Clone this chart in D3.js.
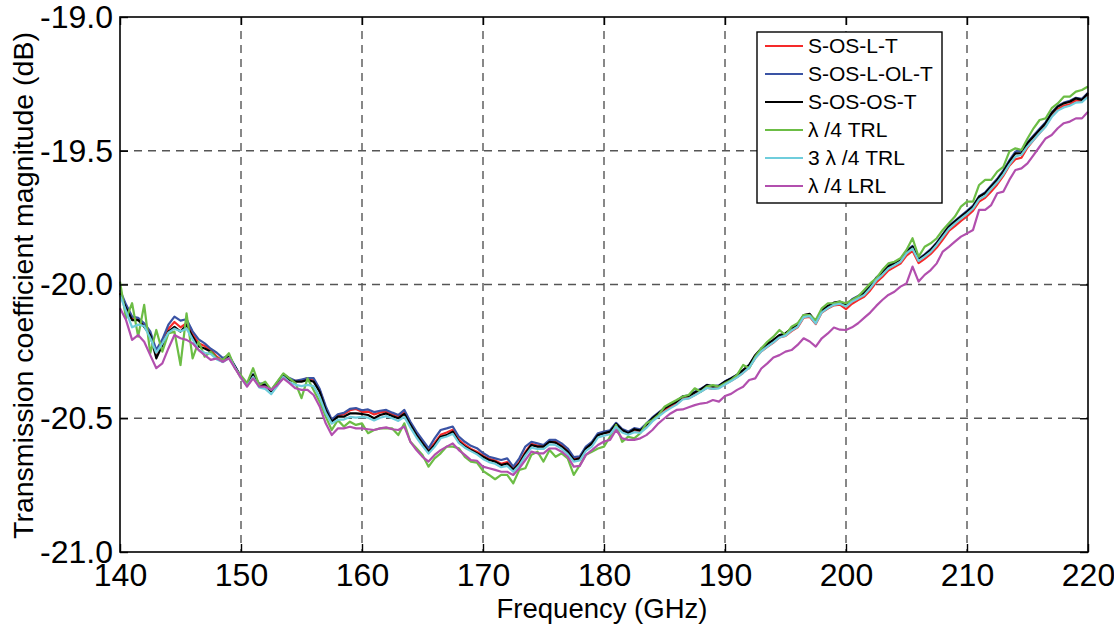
<!DOCTYPE html>
<html>
<head>
<meta charset="utf-8">
<script src="https://cdn.jsdelivr.net/npm/d3@7"></script>
<style>
  html, body { margin: 0; padding: 0; background: #fff; }
  svg { display: block; font-family: "Liberation Sans", Arial, sans-serif; }
</style>
</head>
<body>
<svg id="chart" width="1114" height="624"></svg>
<script>
// Frequency sweep: 140–220 GHz in 0.5 GHz steps
const freqStart = 140;
const freqStep = 0.5;

const xTicks = [140, 150, 160, 170, 180, 190, 200, 210, 220];
const yTicks = [-21.0, -20.5, -20.0, -19.5, -19.0];

const seriesNames = ["S-OS-L-T", "S-OS-L-OL-T", "S-OS-OS-T", "λ /4 TRL", "3 λ /4 TRL", "λ /4 LRL"];
const seriesColors = ["#f52a2a", "#3a53a4", "#000000", "#6cbd45", "#6fcddc", "#b24fae"];

// |S21| in dB for each calibration method
const sOSLT = [
  -20.030, -20.080, -20.125, -20.130, -20.150, -20.185, -20.260, -20.215, -20.165, -20.140,
  -20.160, -20.145, -20.185, -20.220, -20.230, -20.245, -20.270, -20.285, -20.270, -20.310,
  -20.350, -20.375, -20.340, -20.375, -20.375, -20.400, -20.370, -20.340, -20.355, -20.360,
  -20.360, -20.350, -20.355, -20.395, -20.460, -20.510, -20.490, -20.485, -20.470, -20.465,
  -20.476, -20.475, -20.486, -20.478, -20.474, -20.484, -20.493, -20.476, -20.520, -20.557,
  -20.588, -20.620, -20.592, -20.562, -20.553, -20.543, -20.580, -20.600, -20.615, -20.625,
  -20.640, -20.652, -20.658, -20.670, -20.664, -20.688, -20.664, -20.626, -20.596, -20.602,
  -20.602, -20.585, -20.588, -20.602, -20.621, -20.652, -20.647, -20.610, -20.596, -20.560,
  -20.556, -20.552, -20.525, -20.548, -20.558, -20.546, -20.550, -20.530, -20.506, -20.488,
  -20.470, -20.458, -20.446, -20.428, -20.425, -20.413, -20.400, -20.386, -20.390, -20.386,
  -20.372, -20.360, -20.346, -20.330, -20.310, -20.275, -20.250, -20.233, -20.217, -20.198,
  -20.192, -20.174, -20.160, -20.124, -20.121, -20.148, -20.105, -20.090, -20.078, -20.075,
  -20.092, -20.072, -20.058, -20.046, -20.022, -19.992, -19.972, -19.948, -19.935, -19.922,
  -19.892, -19.874, -19.920, -19.904, -19.886, -19.862, -19.832, -19.800, -19.782, -19.762,
  -19.745, -19.724, -19.690, -19.676, -19.652, -19.626, -19.594, -19.556, -19.532, -19.526,
  -19.488, -19.460, -19.434, -19.407, -19.370, -19.345, -19.332, -19.326, -19.312, -19.316,
  -19.290
];

const sOSLOLT = [
  -20.021, -20.075, -20.120, -20.125, -20.145, -20.175, -20.245, -20.205, -20.150, -20.120,
  -20.135, -20.130, -20.175, -20.205, -20.220, -20.240, -20.255, -20.275, -20.265, -20.305,
  -20.345, -20.370, -20.335, -20.370, -20.370, -20.395, -20.365, -20.335, -20.350, -20.360,
  -20.355, -20.350, -20.350, -20.390, -20.455, -20.505, -20.485, -20.480, -20.465, -20.462,
  -20.470, -20.467, -20.477, -20.472, -20.469, -20.479, -20.488, -20.469, -20.513, -20.550,
  -20.581, -20.612, -20.575, -20.544, -20.538, -20.531, -20.569, -20.588, -20.603, -20.612,
  -20.630, -20.644, -20.650, -20.656, -20.650, -20.681, -20.650, -20.606, -20.588, -20.594,
  -20.600, -20.581, -20.581, -20.594, -20.613, -20.645, -20.642, -20.606, -20.588, -20.556,
  -20.550, -20.545, -20.517, -20.540, -20.550, -20.537, -20.541, -20.520, -20.497, -20.479,
  -20.461, -20.448, -20.436, -20.418, -20.414, -20.401, -20.390, -20.375, -20.380, -20.377,
  -20.362, -20.350, -20.337, -20.320, -20.300, -20.266, -20.241, -20.224, -20.208, -20.191,
  -20.184, -20.166, -20.152, -20.118, -20.113, -20.140, -20.098, -20.083, -20.070, -20.066,
  -20.076, -20.055, -20.043, -20.030, -20.005, -19.974, -19.955, -19.930, -19.918, -19.905,
  -19.874, -19.856, -19.904, -19.887, -19.868, -19.843, -19.812, -19.781, -19.762, -19.743,
  -19.725, -19.705, -19.670, -19.656, -19.630, -19.605, -19.573, -19.536, -19.503, -19.500,
  -19.468, -19.443, -19.418, -19.393, -19.357, -19.333, -19.320, -19.313, -19.302, -19.306,
  -19.283
];

const sOSOST = [
  -20.033, -20.089, -20.133, -20.133, -20.158, -20.189, -20.276, -20.226, -20.176, -20.158,
  -20.176, -20.151, -20.195, -20.232, -20.239, -20.251, -20.276, -20.289, -20.270, -20.307,
  -20.345, -20.376, -20.338, -20.376, -20.376, -20.401, -20.369, -20.338, -20.357, -20.363,
  -20.363, -20.357, -20.363, -20.401, -20.469, -20.513, -20.494, -20.494, -20.482, -20.482,
  -20.484, -20.488, -20.500, -20.488, -20.482, -20.492, -20.500, -20.484, -20.525, -20.563,
  -20.594, -20.625, -20.600, -20.569, -20.563, -20.550, -20.588, -20.606, -20.619, -20.631,
  -20.644, -20.656, -20.662, -20.675, -20.669, -20.693, -20.669, -20.631, -20.600, -20.606,
  -20.606, -20.588, -20.591, -20.606, -20.625, -20.656, -20.650, -20.613, -20.594, -20.563,
  -20.556, -20.550, -20.521, -20.544, -20.556, -20.541, -20.546, -20.525, -20.500, -20.482,
  -20.463, -20.450, -20.438, -20.419, -20.417, -20.404, -20.392, -20.376, -20.382, -20.379,
  -20.363, -20.351, -20.338, -20.320, -20.301, -20.264, -20.239, -20.222, -20.207, -20.189,
  -20.183, -20.164, -20.151, -20.114, -20.110, -20.139, -20.095, -20.080, -20.068, -20.064,
  -20.077, -20.058, -20.046, -20.033, -20.008, -19.977, -19.958, -19.933, -19.921, -19.908,
  -19.877, -19.859, -19.908, -19.890, -19.871, -19.846, -19.815, -19.784, -19.765, -19.746,
  -19.728, -19.709, -19.672, -19.659, -19.634, -19.609, -19.578, -19.541, -19.510, -19.510,
  -19.472, -19.447, -19.422, -19.397, -19.360, -19.335, -19.323, -19.317, -19.304, -19.310,
  -19.285
];

const quarterTRL = [
  -19.989, -20.127, -20.070, -20.195, -20.076, -20.257, -20.170, -20.251, -20.183, -20.176,
  -20.301, -20.108, -20.276, -20.214, -20.270, -20.251, -20.276, -20.282, -20.257, -20.313,
  -20.340, -20.369, -20.313, -20.376, -20.363, -20.394, -20.363, -20.332, -20.351, -20.369,
  -20.425, -20.351, -20.394, -20.438, -20.494, -20.544, -20.507, -20.531, -20.513, -20.525,
  -20.519, -20.556, -20.544, -20.538, -20.538, -20.538, -20.563, -20.519, -20.588, -20.612,
  -20.637, -20.681, -20.650, -20.631, -20.606, -20.606, -20.612, -20.644, -20.662, -20.666,
  -20.697, -20.712, -20.728, -20.712, -20.712, -20.743, -20.693, -20.687, -20.637, -20.625,
  -20.662, -20.619, -20.644, -20.631, -20.650, -20.712, -20.675, -20.637, -20.625, -20.613,
  -20.606, -20.569, -20.525, -20.588, -20.569, -20.575, -20.556, -20.519, -20.507, -20.488,
  -20.457, -20.444, -20.432, -20.419, -20.413, -20.388, -20.401, -20.382, -20.376, -20.382,
  -20.369, -20.357, -20.338, -20.301, -20.313, -20.270, -20.239, -20.214, -20.195, -20.170,
  -20.189, -20.158, -20.145, -20.114, -20.114, -20.133, -20.089, -20.070, -20.070, -20.064,
  -20.070, -20.058, -20.045, -20.021, -19.996, -19.977, -19.946, -19.921, -19.915, -19.902,
  -19.871, -19.827, -19.896, -19.859, -19.846, -19.827, -19.796, -19.771, -19.746, -19.709,
  -19.690, -19.690, -19.628, -19.609, -19.609, -19.578, -19.560, -19.503, -19.491, -19.497,
  -19.454, -19.416, -19.385, -19.379, -19.341, -19.323, -19.298, -19.298, -19.279, -19.273,
  -19.260
];

const threeQuarterTRL = [
  -20.040, -20.100, -20.160, -20.150, -20.155, -20.200, -20.255, -20.220, -20.180, -20.165,
  -20.175, -20.165, -20.205, -20.245, -20.255, -20.260, -20.280, -20.290, -20.275, -20.310,
  -20.350, -20.380, -20.345, -20.385, -20.390, -20.410, -20.380, -20.345, -20.365, -20.375,
  -20.380, -20.375, -20.380, -20.420, -20.480, -20.520, -20.505, -20.505, -20.495, -20.498,
  -20.495, -20.498, -20.508, -20.498, -20.492, -20.500, -20.510, -20.495, -20.535, -20.572,
  -20.603, -20.632, -20.607, -20.575, -20.568, -20.558, -20.592, -20.610, -20.623, -20.635,
  -20.652, -20.664, -20.670, -20.683, -20.678, -20.700, -20.676, -20.640, -20.610, -20.615,
  -20.615, -20.598, -20.600, -20.614, -20.634, -20.662, -20.658, -20.622, -20.606, -20.572,
  -20.565, -20.560, -20.532, -20.553, -20.562, -20.552, -20.555, -20.536, -20.512, -20.494,
  -20.476, -20.462, -20.449, -20.430, -20.426, -20.414, -20.401, -20.387, -20.390, -20.388,
  -20.374, -20.361, -20.347, -20.330, -20.311, -20.276, -20.250, -20.232, -20.216, -20.198,
  -20.191, -20.172, -20.158, -20.122, -20.118, -20.146, -20.104, -20.088, -20.076, -20.072,
  -20.082, -20.064, -20.052, -20.039, -20.014, -19.984, -19.964, -19.940, -19.928, -19.915,
  -19.884, -19.866, -19.912, -19.896, -19.878, -19.852, -19.822, -19.792, -19.772, -19.754,
  -19.736, -19.716, -19.682, -19.668, -19.642, -19.618, -19.588, -19.552, -19.522, -19.515,
  -19.484, -19.460, -19.434, -19.410, -19.374, -19.350, -19.338, -19.332, -19.320, -19.318,
  -19.298
];

const quarterLRL = [
  -20.089, -20.133, -20.207, -20.189, -20.214, -20.264, -20.313, -20.295, -20.239, -20.189,
  -20.201, -20.207, -20.220, -20.245, -20.264, -20.282, -20.276, -20.289, -20.276, -20.313,
  -20.348, -20.382, -20.351, -20.382, -20.382, -20.394, -20.376, -20.351, -20.369, -20.388,
  -20.394, -20.394, -20.413, -20.456, -20.519, -20.563, -20.538, -20.538, -20.532, -20.538,
  -20.538, -20.541, -20.544, -20.538, -20.534, -20.541, -20.544, -20.531, -20.588, -20.619,
  -20.644, -20.662, -20.637, -20.619, -20.606, -20.594, -20.619, -20.637, -20.656, -20.659,
  -20.681, -20.687, -20.693, -20.700, -20.700, -20.712, -20.687, -20.656, -20.625, -20.631,
  -20.631, -20.613, -20.613, -20.625, -20.644, -20.681, -20.678, -20.637, -20.619, -20.600,
  -20.587, -20.581, -20.544, -20.575, -20.581, -20.581, -20.575, -20.563, -20.544, -20.519,
  -20.500, -20.482, -20.469, -20.467, -20.459, -20.451, -20.445, -20.442, -20.432, -20.438,
  -20.417, -20.409, -20.394, -20.382, -20.357, -20.351, -20.314, -20.295, -20.273, -20.264,
  -20.251, -20.245, -20.226, -20.201, -20.213, -20.232, -20.201, -20.183, -20.161, -20.169,
  -20.170, -20.160, -20.145, -20.125, -20.105, -20.080, -20.058, -20.039, -20.027, -20.008,
  -19.996, -19.933, -19.989, -19.964, -19.946, -19.921, -19.877, -19.859, -19.840, -19.821,
  -19.809, -19.796, -19.721, -19.721, -19.703, -19.659, -19.653, -19.609, -19.572, -19.566,
  -19.547, -19.516, -19.485, -19.454, -19.441, -19.416, -19.397, -19.391, -19.379, -19.379,
  -19.354
];

const seriesValues = [sOSLT, sOSLOLT, sOSOST, quarterTRL, threeQuarterTRL, quarterLRL];

// ---- layout ----
const margin = { left: 120, top: 17, right: 26, bottom: 72 };
const width = 1114, height = 624;
const plotW = width - margin.left - margin.right;
const plotH = height - margin.top - margin.bottom;

const svg = d3.select("#chart");
const g = svg.append("g").attr("transform", `translate(${margin.left},${margin.top})`);

const x = d3.scaleLinear().domain([140, 220]).range([0, plotW]);
const y = d3.scaleLinear().domain([-21, -19]).range([plotH, 0]);

// dashed grid
const grid = g.append("g").attr("class", "grid");
grid.selectAll("line.vx")
  .data(xTicks.slice(1, -1))
  .join("line")
  .attr("x1", d => x(d)).attr("x2", d => x(d))
  .attr("y1", 0).attr("y2", plotH)
  .attr("stroke", "#555").attr("stroke-width", 1.4)
  .attr("stroke-dasharray", "8,6");
grid.selectAll("line.hy")
  .data(yTicks.slice(1, -1))
  .join("line")
  .attr("x1", 0).attr("x2", plotW)
  .attr("y1", d => y(d)).attr("y2", d => y(d))
  .attr("stroke", "#555").attr("stroke-width", 1.4)
  .attr("stroke-dasharray", "8,6");

// data lines
const line = d3.line()
  .x((d, i) => x(freqStart + i * freqStep))
  .y(d => y(d));

g.append("g").attr("class", "series")
  .selectAll("path")
  .data(seriesValues)
  .join("path")
  .attr("d", d => line(d))
  .attr("fill", "none")
  .attr("stroke", (d, i) => seriesColors[i])
  .attr("stroke-width", 2.2)
  .attr("stroke-linejoin", "round");

// axes with inward ticks on all four sides
const fmt1 = d => d.toFixed(1);   // plain hyphen-minus, one decimal
const tickLen = 8;
const axisStyle = sel => {
  sel.selectAll("path.domain").remove();
  sel.selectAll(".tick line").attr("stroke", "#000").attr("stroke-width", 1.4);
};

const xAxisB = g.append("g").attr("transform", `translate(0,${plotH})`)
  .call(d3.axisBottom(x).tickValues(xTicks).tickSize(-tickLen).tickPadding(11).tickFormat(d => String(d)));
axisStyle(xAxisB);
xAxisB.selectAll("text").attr("font-size", 32).attr("fill", "#000")
  .attr("font-family", "Liberation Sans, Arial, sans-serif");

const xAxisT = g.append("g")
  .call(d3.axisTop(x).tickValues(xTicks).tickSize(-tickLen).tickFormat(""));
axisStyle(xAxisT);

const yAxisL = g.append("g")
  .call(d3.axisLeft(y).tickValues(yTicks).tickSize(-tickLen).tickPadding(7).tickFormat(fmt1));
axisStyle(yAxisL);
yAxisL.selectAll("text").attr("font-size", 32).attr("fill", "#000")
  .attr("font-family", "Liberation Sans, Arial, sans-serif");

const yAxisR = g.append("g").attr("transform", `translate(${plotW},0)`)
  .call(d3.axisRight(y).tickValues(yTicks).tickSize(-tickLen).tickFormat(""));
axisStyle(yAxisR);

// frame
g.append("rect")
  .attr("x", 0).attr("y", 0).attr("width", plotW).attr("height", plotH)
  .attr("fill", "none").attr("stroke", "#000").attr("stroke-width", 1.6);

// axis titles
svg.append("text")
  .attr("x", 602).attr("y", 618)
  .attr("text-anchor", "middle")
  .attr("font-size", 27.5)
  .text("Frequency (GHz)");

svg.append("text")
  .attr("transform", `translate(33,${margin.top + plotH / 2 + 1}) rotate(-90)`)
  .attr("text-anchor", "middle")
  .attr("font-size", 28.5)
  .text("Transmission coefficient magnitude (dB)");

// legend
const legend = g.append("g").attr("transform", `translate(${757 - margin.left},${32 - margin.top})`);
legend.append("rect")
  .attr("width", 185).attr("height", 171)
  .attr("fill", "#fff").attr("stroke", "#000").attr("stroke-width", 1.4);
const items = legend.selectAll("g.item")
  .data(seriesNames)
  .join("g")
  .attr("transform", (d, i) => `translate(0,${14 + i * 28})`);
items.append("line")
  .attr("x1", 8).attr("x2", 46)
  .attr("stroke", (d, i) => seriesColors[i]).attr("stroke-width", 2);
items.append("text")
  .attr("x", 51).attr("dy", "0.35em")
  .attr("font-size", 21)
  .text(d => d);
</script>
</body>
</html>
